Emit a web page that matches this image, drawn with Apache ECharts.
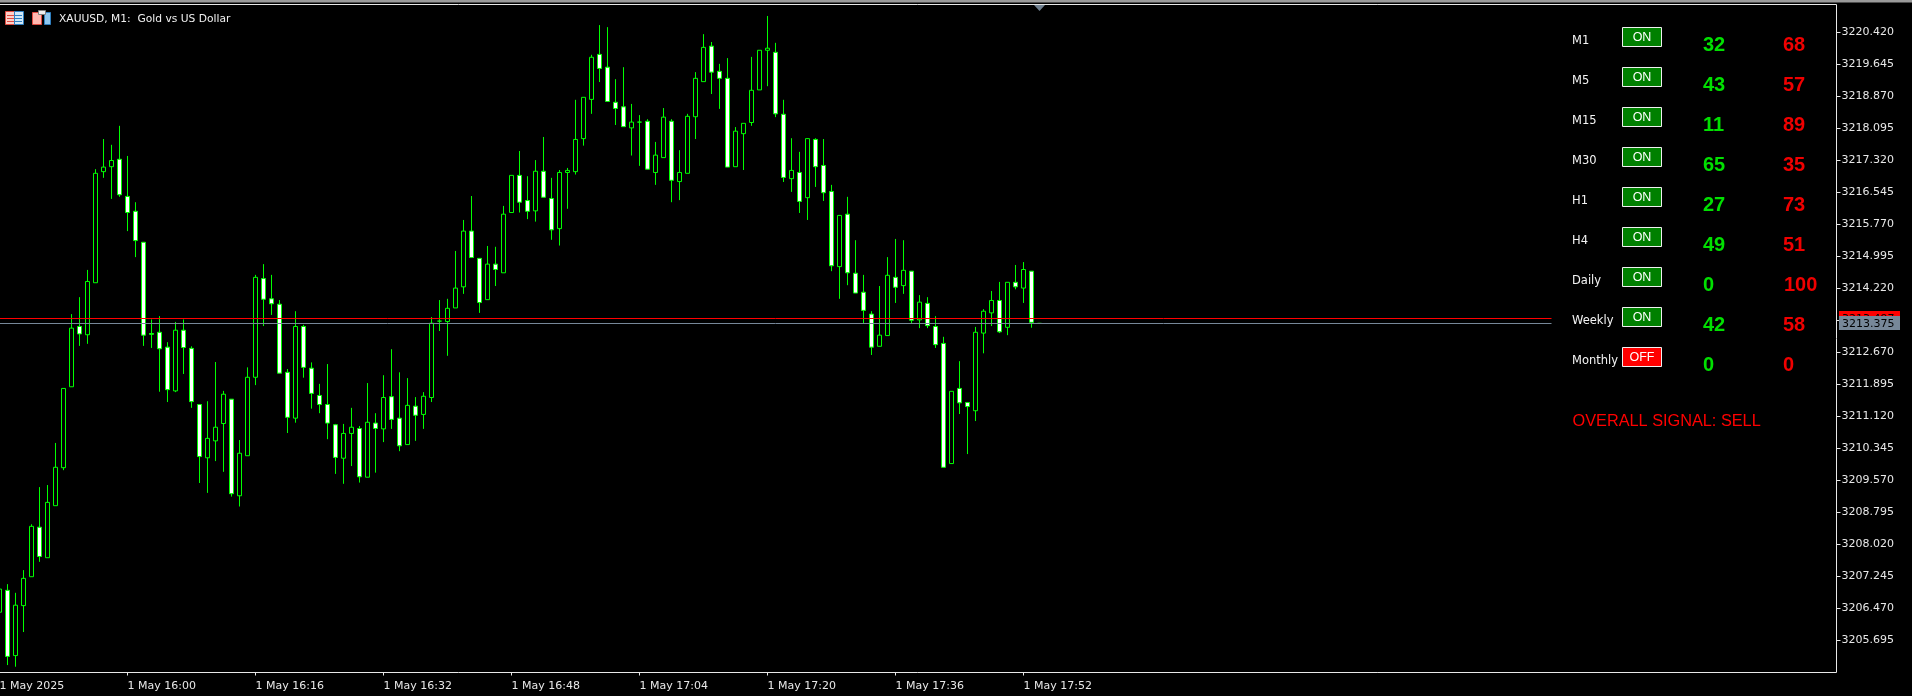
<!DOCTYPE html>
<html>
<head>
<meta charset="utf-8">
<style>html,body{margin:0;padding:0;background:#000}#c{width:1912px;height:696px}</style>
<script src="https://cdn.jsdelivr.net/npm/echarts@6/dist/echarts.min.js"></script>
</head>
<body>
<div id="c"></div>
<script>
const title = 'XAUUSD, M1:  Gold vs US Dollar';
const timeLabels = ['1 May 2025','1 May 16:00','1 May 16:16','1 May 16:32','1 May 16:48','1 May 17:04','1 May 17:20','1 May 17:36','1 May 17:52'];
const yTicks = [3220.420,3219.645,3218.870,3218.095,3217.320,3216.545,3215.770,3214.995,3214.220,3213.445,3212.670,3211.895,3211.120,3210.345,3209.570,3208.795,3208.020,3207.245,3206.470,3205.695];
const askPrice = 3213.497;
const bidPrice = 3213.375;
const opens = [3206.38,3206.91,3205.33,3206.54,3207.24,3208.44,3207.70,3208.96,3209.88,3211.84,3213.30,3213.10,3214.36,3217.05,3217.17,3217.35,3216.45,3216.09,3215.34,3213.13,3213.16,3212.80,3211.74,3213.21,3212.77,3211.41,3210.12,3210.53,3210.95,3211.54,3209.20,3210.17,3212.07,3214.46,3213.97,3213.84,3212.19,3211.08,3213.30,3212.29,3211.63,3211.41,3210.92,3210.11,3210.71,3210.83,3209.65,3210.96,3210.82,3211.60,3211.08,3210.44,3211.37,3211.17,3211.58,3213.43,3213.42,3213.75,3214.26,3215.61,3214.95,3213.95,3214.81,3214.60,3216.06,3216.96,3216.35,3216.10,3217.06,3216.40,3215.67,3217.03,3217.05,3217.85,3218.80,3219.89,3219.58,3218.73,3218.62,3218.11,3218.25,3218.27,3217.03,3217.39,3218.27,3216.81,3217.01,3218.38,3219.23,3220.09,3219.48,3219.31,3217.17,3217.97,3218.24,3219.03,3219.99,3219.94,3218.44,3216.88,3217.03,3216.42,3217.83,3217.20,3216.57,3214.75,3216.02,3214.59,3214.13,3213.60,3212.82,3213.08,3214.49,3214.29,3214.64,3213.46,3213.86,3213.30,3212.89,3209.98,3211.80,3211.46,3211.26,3213.14,3213.63,3213.93,3213.28,3214.37,3214.23,3214.64,3213.375];
const closes = [3206.94,3205.31,3206.55,3207.20,3208.46,3207.73,3209.04,3209.89,3211.80,3213.26,3213.12,3214.39,3217.01,3217.16,3217.32,3216.49,3216.06,3215.38,3213.09,3213.11,3212.76,3211.77,3213.21,3212.79,3211.48,3210.15,3210.59,3210.86,3211.66,3209.25,3210.23,3212.07,3214.49,3213.96,3213.85,3212.17,3211.10,3213.30,3212.31,3211.68,3211.41,3210.96,3210.13,3210.71,3210.86,3209.66,3210.98,3210.83,3211.58,3211.05,3210.41,3211.39,3211.15,3211.61,3213.38,3213.43,3213.74,3214.23,3215.61,3214.97,3213.88,3214.81,3214.68,3216.02,3216.96,3216.31,3216.09,3217.06,3216.43,3215.64,3217.03,3217.08,3217.83,3218.85,3219.82,3219.55,3218.75,3218.58,3218.14,3218.25,3218.25,3217.11,3217.45,3218.37,3216.84,3217.03,3218.39,3219.31,3220.06,3219.46,3219.31,3217.16,3218.03,3218.22,3219.02,3219.99,3220.04,3218.45,3216.91,3217.08,3216.33,3217.85,3217.17,3216.54,3214.77,3215.99,3214.60,3214.11,3213.69,3212.80,3213.09,3214.54,3214.25,3214.66,3213.45,3213.89,3213.32,3212.86,3209.89,3211.73,3211.45,3211.36,3213.16,3213.67,3213.93,3213.17,3214.37,3214.26,3214.68,3213.40,3213.375];
const lows = [3206.31,3205.10,3205.06,3205.90,3207.24,3207.60,3207.70,3208.96,3209.82,3211.84,3212.83,3212.88,3214.36,3216.90,3216.39,3216.44,3215.61,3214.98,3212.83,3212.78,3211.72,3211.47,3211.71,3212.15,3211.33,3209.51,3209.27,3210.04,3209.78,3209.18,3208.94,3210.17,3211.88,3213.31,3213.58,3212.17,3210.72,3210.97,3212.06,3211.31,3211.20,3210.57,3209.73,3209.49,3209.92,3209.52,3209.65,3209.76,3210.50,3210.82,3210.28,3210.44,3210.53,3210.82,3211.47,3213.19,3212.59,3213.75,3214.09,3214.97,3213.63,3213.95,3214.28,3214.60,3216.06,3216.06,3215.90,3215.84,3216.43,3215.40,3215.26,3216.15,3216.98,3217.68,3218.45,3219.22,3218.75,3218.18,3218.14,3217.44,3217.19,3217.11,3216.73,3217.39,3216.31,3216.36,3217.01,3217.84,3219.23,3218.93,3218.57,3217.16,3217.17,3217.09,3218.16,3219.03,3219.12,3218.37,3216.80,3216.56,3216.05,3215.88,3216.68,3216.34,3214.64,3213.97,3214.30,3214.11,3213.38,3212.61,3212.82,3213.08,3213.87,3214.09,3213.38,3213.26,3213.26,3212.78,3209.89,3209.98,3211.18,3210.21,3211.01,3212.65,3213.31,3213.14,3213.09,3214.20,3213.87,3213.27,3213.375];
const highs = [3207.04,3207.06,3206.85,3207.40,3208.51,3209.41,3209.46,3210.48,3211.80,3213.60,3214.01,3214.67,3217.11,3217.84,3217.70,3218.16,3217.43,3216.31,3215.34,3213.47,3213.55,3212.92,3213.41,3213.47,3212.82,3211.41,3211.49,3212.44,3211.74,3211.54,3210.55,3212.31,3214.55,3214.81,3214.55,3213.94,3212.27,3213.67,3213.34,3212.43,3211.91,3212.39,3210.94,3210.94,3211.33,3210.89,3211.93,3211.20,3212.12,3212.75,3212.19,3212.05,3211.59,3211.71,3213.53,3213.94,3213.97,3215.13,3215.88,3216.46,3214.95,3215.25,3215.23,3216.22,3216.96,3217.55,3216.94,3217.33,3217.89,3216.90,3217.09,3217.14,3218.79,3218.85,3219.88,3220.60,3220.55,3219.29,3219.58,3218.69,3218.42,3218.32,3217.77,3218.59,3218.32,3217.57,3218.45,3219.46,3220.38,3220.19,3219.66,3219.80,3218.13,3218.22,3219.83,3219.99,3220.82,3220.17,3218.79,3217.86,3217.53,3217.86,3217.86,3217.84,3216.73,3215.99,3216.44,3215.39,3214.55,3213.67,3214.28,3214.98,3215.42,3215.39,3214.64,3214.06,3214.01,3213.55,3213.05,3211.73,3212.46,3211.47,3213.29,3213.72,3214.16,3214.38,3214.37,3214.79,3214.86,3214.64,3213.375];
const timeframes = ['M1','M5','M15','M30','H1','H4','Daily','Weekly','Monthly'];
const states = ['ON','ON','ON','ON','ON','ON','ON','ON','OFF'];
const buyScores = [32,43,11,65,27,49,0,42,0];
const sellScores = [68,57,89,35,73,51,100,58,0];
const signal = 'OVERALL SIGNAL: SELL';

const SLOTS = 230, LABEL_STEP = 16, LAST_LABEL_SLOT = 128, LINE_END_SLOT = 194;
const categories = Array.from({length: SLOTS}, (_, i) => (i % LABEL_STEP === 0 && i / LABEL_STEP < timeLabels.length) ? timeLabels[i / LABEL_STEP] : '');
const candles = opens.map((o, i) => [o, closes[i], lows[i], highs[i]]);
const UI = 'DejaVu Sans', ARIAL = 'Liberation Sans';

const chart = echarts.init(document.getElementById('c'), null, {renderer: 'canvas'});
const Y_PER_PX = 0.775 / 32;
chart.setOption({
  animation: false,
  backgroundColor: '#000',
  grid: {left: -4.5, top: 4.5, width: 1840, height: 668, containLabel: false, outerBoundsMode: 'none'},
  xAxis: {
    type: 'category', data: categories, boundaryGap: true,
    axisLine: {show: false},
    axisTick: {show: true, alignWithLabel: true, length: 3, lineStyle: {color: '#e8e8e8', width: 1},
      interval: i => i % LABEL_STEP === 0 && i <= LAST_LABEL_SLOT},
    axisLabel: {show: true, color: '#e8e8e8', fontFamily: UI, fontSize: 11, align: 'left', margin: 8, hideOverlap: false,
      interval: i => i % LABEL_STEP === 0 && i <= LAST_LABEL_SLOT},
    splitLine: {show: false}
  },
  yAxis: {
    type: 'value', position: 'right', offset: 1,
    min: 3220.42 - 640 * Y_PER_PX, max: 3220.42 + 28 * Y_PER_PX,
    axisLine: {show: false},
    axisTick: {show: true, length: 4, customValues: yTicks, lineStyle: {color: '#e8e8e8', width: 1}},
    axisLabel: {show: true, customValues: yTicks, color: '#e8e8e8', fontFamily: UI, fontSize: 11, margin: 5, padding: [2, 0, 0, 0],
      formatter: v => v.toFixed(3)},
    splitLine: {show: false}
  },
  series: [{
    type: 'candlestick', data: candles, barWidth: 4, clip: true,
    itemStyle: {color: '#000', color0: '#fff', borderColor: '#00ff00', borderColor0: '#00ff00', borderColorDoji: '#00ff00', borderWidth: 1},
    markLine: {
      silent: true, symbol: 'none', animation: false, label: {show: false},
      data: [
        [{coord: [0, askPrice], lineStyle: {color: '#ff0000', width: 1, type: 'solid'}}, {coord: [LINE_END_SLOT, askPrice]}],
        [{coord: [0, bidPrice], lineStyle: {color: '#778899', width: 1, type: 'solid'}}, {coord: [LINE_END_SLOT, bidPrice]}]
      ]
    }
  }]
});

const g = [];
const rect = (x, y, w, h, fill, stroke, z) => g.push({type: 'rect', z: z || 100, silent: true, shape: {x, y, width: w, height: h}, style: {fill: fill || 'none', stroke: stroke || 'none', lineWidth: 1}});
const text = (x, y, t, font, fill, align, extra) => g.push({type: 'text', z: 110, silent: true, x, y, style: Object.assign({text: t, font, fill, align: align || 'left', verticalAlign: 'middle'}, extra || {})});

// chart frame and top strip
rect(-2, 4.5, 1838.5, 668, null, '#e8e8e8', 90);
rect(0, 0, 1912, 2.5, '#9a9a9a', null, 90);

// title bar icons
rect(5.5, 11.5, 9, 13, '#ffd0c8', '#e04a40');
rect(14.5, 11.5, 9, 13, '#d0e8f8', '#2f7fc0');
[15, 18, 21].forEach(y => { rect(7, y, 7, 1, '#e04a40'); rect(15, y, 7, 1, '#2f7fc0'); });
rect(32.5, 12.5, 9, 12, '#ffb8b0', '#e04a40');
rect(44.5, 12.5, 6, 12, '#90c8f0', '#2f7fc0');
rect(38.5, 10.5, 7, 4, '#f0f0f0', '#808080');
text(59, 19.5, title, '10.7px "' + UI + '"', '#f0f0f0');

// last-bar marker triangle on the top edge
const lastX = chart.convertToPixel({xAxisIndex: 0}, opens.length - 1);
g.push({type: 'polygon', z: 100, silent: true, shape: {points: [[lastX - 5.5, 5], [lastX + 5.5, 5], [lastX, 11]]}, style: {fill: '#708090'}});

// price tags on the price axis
const askY = chart.convertToPixel({yAxisIndex: 0}, askPrice);
const bidY = chart.convertToPixel({yAxisIndex: 0}, bidPrice);
g.push({type: 'rect', z: 100, silent: true, shape: {x: 1839, y: Math.round(askY) - 7, width: 61, height: 14}, style: {fill: '#ff0000'}});
text(1842, askY + 1, askPrice.toFixed(3), '11px "' + UI + '"', '#000');
g.push({type: 'rect', z: 111, silent: true, shape: {x: 1839, y: Math.round(bidY) - 7, width: 61, height: 14}, style: {fill: '#778899'}});
g.push({type: 'text', z: 112, silent: true, x: 1842, y: bidY + 1, style: {text: bidPrice.toFixed(3), font: '11px "' + UI + '"', fill: '#000', verticalAlign: 'middle'}});

// signal panel
timeframes.forEach((tf, i) => {
  const dy = 40 * i;
  text(1572, 41.5 + dy, tf, '11.5px "' + UI + '"', '#f4f4f4');
  const on = states[i] === 'ON';
  rect(1622.5, 27.5 + dy, 39, 19, on ? '#008000' : '#ff0000', '#f0f0f0');
  text(1642, 37.5 + dy, states[i], '12.5px "' + ARIAL + '"', '#fff', 'center');
  const sh = c => ({textShadowColor: c, textShadowBlur: 0, textShadowOffsetX: 1, textShadowOffsetY: 1});
  text(1703, 45 + dy, String(buyScores[i]), 'bold 20px "' + ARIAL + '"', '#00e000', 'left', sh('#006000'));
  text(sellScores[i] === 100 ? 1784 : 1783, 45 + dy, String(sellScores[i]), 'bold 20px "' + ARIAL + '"', '#f00000', 'left', sh('#800000'));
});
text(1572.5, 422, signal, '16.3px "' + ARIAL + '"', '#ff0000');

chart.setOption({graphic: {elements: g}});
</script>
</body>
</html>
